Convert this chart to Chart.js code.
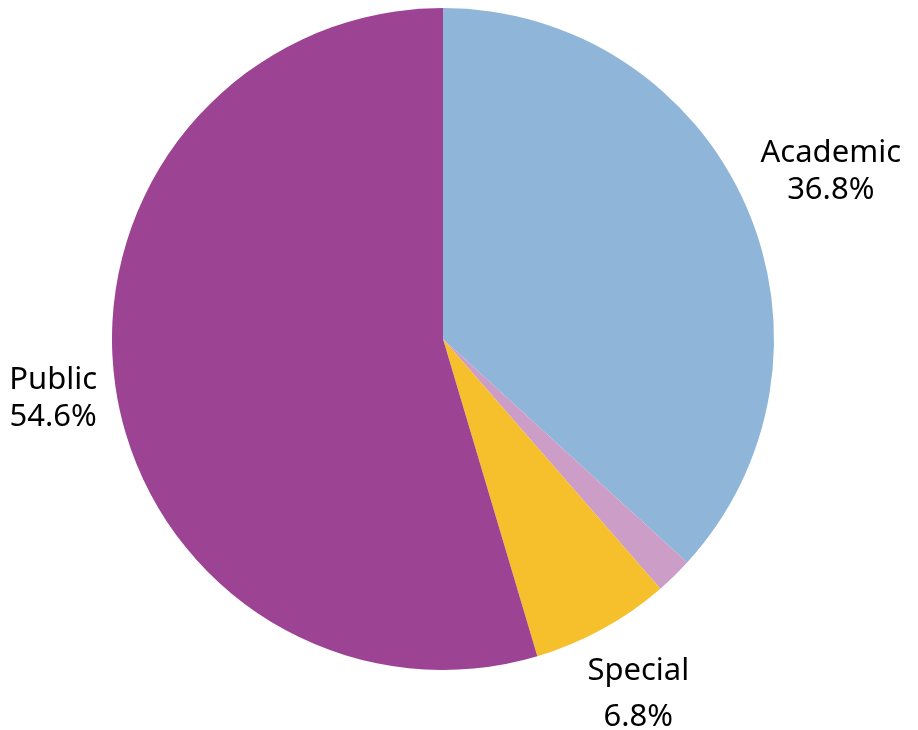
<!DOCTYPE html>
<html>
<head>
<meta charset="utf-8">
<script src="https://cdn.jsdelivr.net/npm/chart.js@4"></script>
<style>
  html, body { margin: 0; padding: 0; background: #fff; }
  #wrap { width: 918px; height: 730px; }
</style>
</head>
<body>
<div id="wrap"><canvas id="myChart"></canvas></div>
<script>
// data
const LABELS = ["Academic", "Other", "Special", "Public"];
const SHARES = [36.8, 1.8, 6.8, 54.6];
const SHOW_LABEL = [true, false, true, true];
const COLORS = ["#8fb5d8", "#cc9dc6", "#f5c02c", "#9c4393"];

// label distance from centre, as a multiple of the radius
const LABEL_DIST = [1.28, 1.0, 1.225, 1.19];
const LABEL_FONT = '31px "Noto Sans", "Open Sans", sans-serif';

// draws "name / value%" outside each slice
const outsideLabels = {
  id: 'outsideLabels',
  afterDatasetsDraw(chart) {
    const ctx = chart.ctx;
    const meta = chart.getDatasetMeta(0);
    ctx.save();
    ctx.font = LABEL_FONT;
    ctx.fillStyle = '#000';
    ctx.textAlign = 'center';
    ctx.textBaseline = 'middle';
    meta.data.forEach((arc, i) => {
      if (!SHOW_LABEL[i]) return;
      const mid = (arc.startAngle + arc.endAngle) / 2;
      const r = arc.outerRadius * LABEL_DIST[i];
      const x = arc.x + Math.cos(mid) * r;
      const y = arc.y + Math.sin(mid) * r + (i === 2 ? 0 : 3);
      const gap = i === 2 ? 23 : 18.5;
      ctx.fillText(LABELS[i], x, y - gap);
      ctx.fillText(SHARES[i].toFixed(1) + '%', x, y + gap);
    });
    ctx.restore();
  }
};

var ctx = document.getElementById("myChart").getContext("2d");
var pieChart = new Chart(ctx, {
  type: 'pie',
  data: {
    labels: LABELS,
    datasets: [{
      data: SHARES,
      backgroundColor: COLORS,
      borderWidth: 0,
    }]
  },
  options: {
    responsive: true,
    maintainAspectRatio: false,
    animation: false,
    layout: {
      padding: { left: 112, right: 144, top: 8, bottom: 60 },
    },
    plugins: {
      legend: { display: false },
      tooltip: { enabled: false },
    },
  },
  plugins: [outsideLabels],
});
</script>
</body>
</html>
